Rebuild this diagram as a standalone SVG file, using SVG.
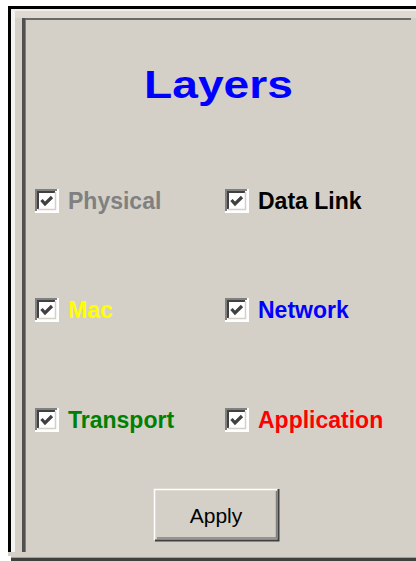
<svg xmlns="http://www.w3.org/2000/svg" width="416" height="561" viewBox="0 0 416 561">
<defs>
<style>
.lbl{font-family:"Liberation Sans",Arial,sans-serif;font-weight:bold;font-size:23px}
.btn{font-family:"Liberation Sans",Arial,sans-serif;font-size:21px;fill:#000}
</style>
<g id="cb">
<rect x="0" y="0" width="23" height="23" fill="#ffffff"/>
<path d="M1 22V1H22" fill="none" stroke="#808080" stroke-width="2"/>
<path d="M3 20V3H20" fill="none" stroke="#404040" stroke-width="2"/>
<path d="M0 23H23V0" fill="none" stroke="#ffffff" stroke-width="2"/>
<path d="M3 20.5H20.5V3" fill="none" stroke="#d4d0c8" stroke-width="1.5"/>
<path d="M6.5 11L10 15L17 8" fill="none" stroke="#404040" stroke-width="3.2"/>
</g>
</defs>
<rect width="416" height="561" fill="#ffffff"/>
<g id="frame">
<rect x="8" y="6" width="408" height="550" fill="#d4d0c8"/>
<rect x="8" y="6" width="408" height="3" fill="#000"/>
<rect x="8" y="6" width="3" height="546" fill="#000"/>
<rect x="11" y="9" width="4" height="543" fill="#f4f4f2"/>
<rect x="11" y="9" width="405" height="2" fill="#f0eee8"/>
<rect x="15" y="11" width="401" height="7" fill="#dedad2"/>
<rect x="22" y="18" width="389" height="2" fill="#6a6a6a"/>
<rect x="22" y="18" width="3" height="535" fill="#505050"/>
<rect x="25" y="20" width="1" height="533" fill="#808080"/>
<rect x="11" y="552" width="405" height="5" fill="#d4d0c8"/>
<rect x="11" y="557" width="405" height="1" fill="#a0a0a0"/>
<rect x="11" y="558" width="405" height="3" fill="#404040"/>
</g>
<g id="title">
<text x="144" y="98" textLength="149" lengthAdjust="spacingAndGlyphs" font-family="Liberation Sans, Arial, sans-serif" font-weight="bold" font-size="38" fill="#0000ff">Layers</text>
</g>
<g id="physical">
<use href="#cb" x="35" y="189"/>
<text class="lbl" x="68" y="209" fill="#808080">Physical</text>
</g>
<g id="datalink">
<use href="#cb" x="225" y="189"/>
<text class="lbl" x="258" y="209" fill="#000000">Data Link</text>
</g>
<g id="mac">
<use href="#cb" x="35" y="298"/>
<text class="lbl" x="68" y="318" fill="#ffff00">Mac</text>
</g>
<g id="network">
<use href="#cb" x="225" y="298"/>
<text class="lbl" x="258" y="318" fill="#0000ff">Network</text>
</g>
<g id="transport">
<use href="#cb" x="35" y="408"/>
<text class="lbl" x="68" y="428" fill="#008000">Transport</text>
</g>
<g id="application">
<use href="#cb" x="225" y="408"/>
<text class="lbl" x="258" y="428" fill="#ff0000">Application</text>
</g>
<g id="apply">
<rect x="154" y="489" width="125" height="52" fill="#d4d0c8"/>
<path d="M154.5 540V489.5H278" fill="none" stroke="#ffffff" stroke-width="1.5"/>
<path d="M155 540.5H278.5V489" fill="none" stroke="#404040" stroke-width="2"/>
<path d="M157 538H276.5V491" fill="none" stroke="#808080" stroke-width="1.5"/>
<text class="btn" x="216" y="523" text-anchor="middle">Apply</text>
</g>
<g id="connectors"/>
</svg>
